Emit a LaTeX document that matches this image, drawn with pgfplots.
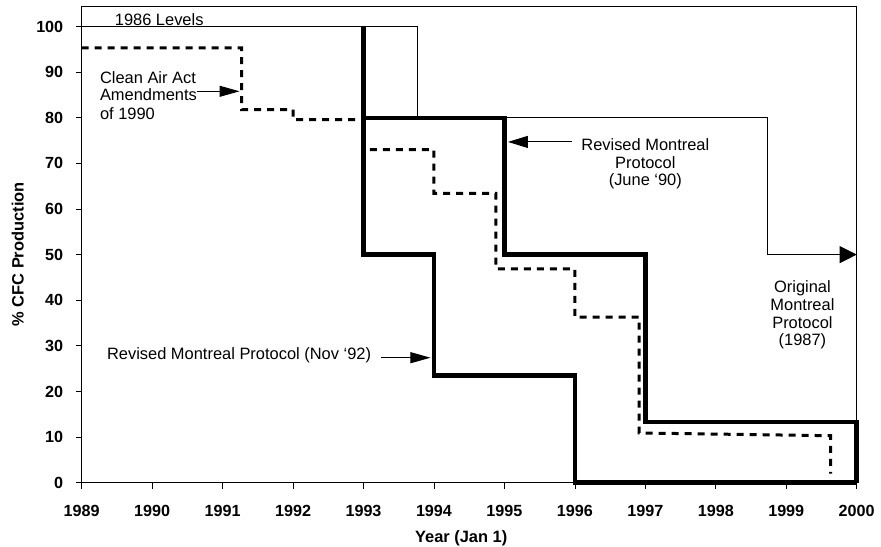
\documentclass[border=0pt]{standalone}
\usepackage{fontspec}
\setmainfont{Liberation Sans}
\usepackage{pgfplots}
\pgfplotsset{compat=1.18}
\usetikzlibrary{arrows.meta}
\newcommand{\af}{\fontsize{16.5}{19.5}\selectfont}
\begin{document}
\begin{tikzpicture}
\path[use as bounding box] (-81.7bp,-64.3bp) rectangle (799.3bp,482.7bp);
\begin{axis}[
  at={(0,0)}, anchor=south west,
  scale only axis, width=775bp, height=476.7bp,
  xmin=1989, xmax=2000, ymin=0, ymax=104.5,
  xtick={1989,1990,...,2000}, ytick={0,10,...,100},
  /pgf/number format/1000 sep={},
  /pgf/number format/assume math mode=true,
  tick pos=left, tick align=outside, major tick length=6bp,
  tick style={black, line width=0.75bp},
  axis line style={black, line width=0.75bp},
  clip=false,
  ticklabel style={font=\bfseries\fontsize{16.2}{19}\selectfont},
  yticklabel style={xshift=-9bp},
  xticklabel style={yshift=-13.5bp},
  xlabel={Year (Jan 1)},
  ylabel={\% CFC Production},
  xlabel style={at={(axis description cs:0.4897,-0.126)}, anchor=base, font=\bfseries\af},
  ylabel style={at={(axis description cs:-0.0825,0.479)}, anchor=center, font=\bfseries\af},
]
% Original Montreal Protocol (1987) - thin
\addplot[black, line width=1bp, -{Triangle[length=17bp,width=17bp]}] coordinates {
  (1989,100) (1993.77,100) (1993.77,80) (1998.74,80) (1998.74,50) (2000,50)};
% Clean Air Act Amendments of 1990 - dashed
\addplot[black, line width=3bp, dash pattern=on 7bp off 6bp] coordinates {
  (1989,95.3) (1991.27,95.3) (1991.27,81.8) (1992,81.8) (1992,79.6) (1993,79.6)
  (1993,73) (1994,73) (1994,63.4) (1994.88,63.4) (1994.88,46.9) (1996,46.9)
  (1996,36.3) (1996.91,36.3) (1996.91,10.9) (1999.63,10.3) (1999.63,2)};
% Revised Montreal Protocol (June '90) - thick
\addplot[black, line width=4.5bp] coordinates {
  (1993,100) (1993,80) (1995,80) (1995,50) (1997,50) (1997,13.3) (2000,13.3) (2000,0)};
% Revised Montreal Protocol (Nov '92) - thick
\addplot[black, line width=4.5bp] coordinates {
  (1993,80) (1993,50) (1994,50) (1994,23.5) (1996,23.5) (1996,0) (2000,0)};

% annotations
\node[anchor=base, font=\af] at (axis cs:1990.10,100.3) {1986 Levels};
\node[anchor=base west, font=\af] at (axis cs:1989.21,87.5) {Clean Air Act};
\node[anchor=base west, font=\af] at (axis cs:1989.21,83.7) {Amendments};
\node[anchor=base west, font=\af] at (axis cs:1989.21,79.7) {of 1990};
\draw[black, line width=1bp, -{Triangle[length=20bp,width=11bp]}] (axis cs:1990.63,85.8) -- (axis cs:1991.24,85.8);

\node[anchor=base, font=\af] at (axis cs:1997.0,72.9) {Revised Montreal};
\node[anchor=base, font=\af] at (axis cs:1997.0,68.9) {Protocol};
\node[anchor=base, font=\af] at (axis cs:1997.0,65.1) {(June ‘90)};
\draw[black, line width=1bp, -{Triangle[length=20bp,width=12bp]}] (axis cs:1995.96,74.7) -- (axis cs:1995.05,74.7);

\node[anchor=base, font=\af] at (axis cs:1999.23,41.7) {Original};
\node[anchor=base, font=\af] at (axis cs:1999.23,37.8) {Montreal};
\node[anchor=base, font=\af] at (axis cs:1999.23,33.8) {Protocol};
\node[anchor=base, font=\af] at (axis cs:1999.23,30.1) {(1987)};

\node[anchor=base west, font=\af] at (axis cs:1989.31,27.1) {Revised Montreal Protocol (Nov ‘92)};
\draw[black, line width=1bp, -{Triangle[length=20bp,width=11bp]}] (axis cs:1993.25,27.4) -- (axis cs:1993.95,27.4);
\end{axis}
\end{tikzpicture}
\end{document}
